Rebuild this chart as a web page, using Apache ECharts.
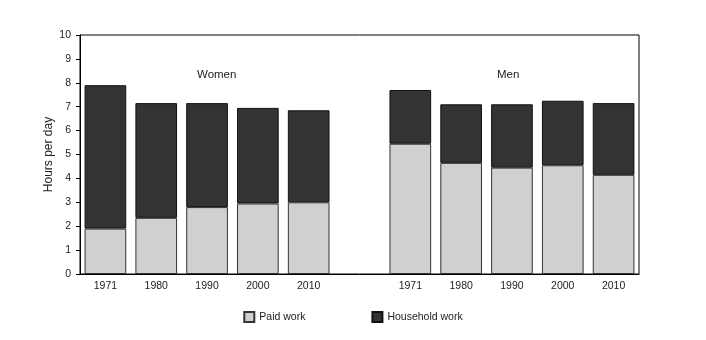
<!DOCTYPE html>
<html>
<head>
<meta charset="utf-8">
<script src="https://cdn.jsdelivr.net/npm/echarts@6/dist/echarts.min.js"></script>
<style>
  html, body { margin: 0; padding: 0; background: #ffffff; }
  #chart { width: 706px; height: 340px; }
</style>
</head>
<body>
<div id="chart"></div>
<script>
// Years for women, an empty spacer slot, then years for men
const categories = ['1971', '1980', '1990', '2000', '2010', '', '1971', '1980', '1990', '2000', '2010'];
const paidWork      = [1.9, 2.35, 2.8, 2.95, 3.0, null, 5.45, 4.65, 4.45, 4.55, 4.15];
const householdWork = [6.0, 4.8, 4.35, 4.0, 3.85, null, 2.25, 2.45, 2.65, 2.7, 3.0];
const yTicks = [0, 1, 2, 3, 4, 5, 6, 7, 8, 9, 10];
const groupLabels = ['Women', 'Men'];

const font = 'Liberation Sans, Arial, sans-serif';
const chart = echarts.init(document.getElementById('chart'), null, { renderer: 'canvas' });

chart.setOption({
  backgroundColor: '#ffffff',
  animation: false,
  grid: {
    left: 80, right: 67, top: 35, bottom: 66,
    show: true, borderColor: '#000', borderWidth: 1, backgroundColor: 'transparent'
  },
  legend: {
    bottom: 12,
    left: 'center',
    itemWidth: 10,
    itemHeight: 10,
    itemGap: 66,
    icon: 'rect',
    textStyle: { fontFamily: font, fontSize: 10.5, color: '#222' },
    data: ['Paid work', 'Household work']
  },
  xAxis: {
    type: 'category',
    data: categories,
    axisLine: { lineStyle: { color: '#000', width: 1 } },
    axisTick: { show: false },
    axisLabel: { fontFamily: font, fontSize: 10.5, color: '#222', margin: 7, interval: 0 }
  },
  yAxis: {
    type: 'value',
    min: yTicks[0],
    max: yTicks[yTicks.length - 1],
    interval: 1,
    name: 'Hours per day',
    nameLocation: 'middle',
    nameGap: 25,
    nameMoveOverlap: false,
    nameTextStyle: { fontFamily: font, fontSize: 12, color: '#222' },
    axisLine: { show: true, lineStyle: { color: '#000', width: 1 } },
    axisTick: { show: true, length: 4, lineStyle: { color: '#000' } },
    axisLabel: { fontFamily: font, fontSize: 10.5, color: '#222', margin: 9 },
    splitLine: { show: false }
  },
  series: [
    {
      name: 'Paid work',
      type: 'bar',
      stack: 'total',
      data: paidWork,
      barCategoryGap: '18%',
      itemStyle: { color: '#d0d0d0', borderColor: '#333', borderWidth: 1 }
    },
    {
      name: 'Household work',
      type: 'bar',
      stack: 'total',
      data: householdWork,
      itemStyle: { color: '#333333', borderColor: '#111', borderWidth: 1 }
    }
  ],
  graphic: [
    { type: 'text', left: 197, top: 69, style: { text: groupLabels[0], font: '11.5px ' + font, fill: '#222' } },
    { type: 'text', left: 497, top: 69, style: { text: groupLabels[1], font: '11.5px ' + font, fill: '#222' } }
  ]
});
</script>
</body>
</html>
